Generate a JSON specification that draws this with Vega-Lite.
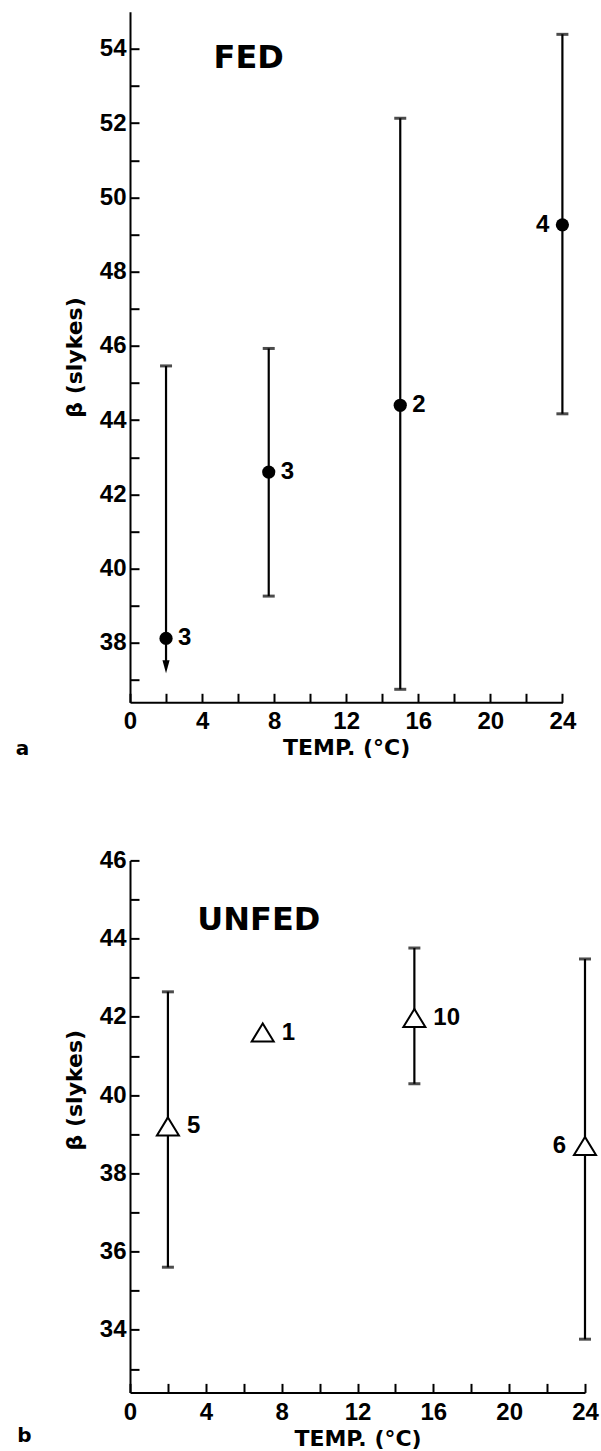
{
  "$schema": "https://vega.github.io/schema/vega-lite/v6.json",
  "padding": {"left": 15, "top": 11.7, "right": 5, "bottom": 0},
  "spacing": 88.7,
  "background": "white",
  "config": {
    "view": {"stroke": null},
    "axis": {
      "grid": false,
      "domainColor": "black",
      "domainWidth": 2,
      "tickColor": "black",
      "tickWidth": 2,
      "tickSize": -9,
      "labelFont": "Liberation Sans",
      "labelFontWeight": "bold",
      "labelFontSize": 24,
      "labelColor": "black",
      "titleFont": "DejaVu Sans",
      "titleFontWeight": "bold",
      "titleFontSize": 22,
      "titleColor": "black",
      "labelFlush": false,
      "labelOverlap": false
    },
    "axisX": {"labelPadding": 16.7, "titlePadding": 4},
    "axisY": {"labelPadding": 13, "titlePadding": 13}
  },
  "datasets": {
    "fedBars": [
      {"temp": 2, "beta": 37.5, "beta2": 45.46},
      {"temp": 7.7, "beta": 39.26, "beta2": 45.93},
      {"temp": 15, "beta": 36.75, "beta2": 52.13},
      {"temp": 24, "beta": 44.17, "beta2": 54.39}
    ],
    "fedCaps": [
      {"temp": 2, "beta": 45.46},
      {"temp": 7.7, "beta": 45.93},
      {"temp": 7.7, "beta": 39.26},
      {"temp": 15, "beta": 52.13},
      {"temp": 15, "beta": 36.75},
      {"temp": 24, "beta": 54.39},
      {"temp": 24, "beta": 44.17}
    ],
    "fedArrow": [
      {"temp": 2, "beta": 37.36}
    ],
    "fedPoints": [
      {"temp": 2, "beta": 38.12, "n": "3", "side": "right"},
      {"temp": 7.7, "beta": 42.6, "n": "3", "side": "right"},
      {"temp": 15, "beta": 44.4, "n": "2", "side": "right"},
      {"temp": 24, "beta": 49.26, "n": "4", "side": "left"}
    ],
    "fedNotes": [
      {"temp": 4.64, "beta": 53.75, "text": "FED", "kind": "head"},
      {"temp": -6.34, "beta": 35.15, "text": "a", "kind": "panel"}
    ],
    "unfedBars": [
      {"temp": 2, "beta": 35.6, "beta2": 42.64},
      {"temp": 15, "beta": 40.29, "beta2": 43.76},
      {"temp": 24, "beta": 33.76, "beta2": 43.48}
    ],
    "unfedCaps": [
      {"temp": 2, "beta": 42.64},
      {"temp": 2, "beta": 35.6},
      {"temp": 15, "beta": 43.76},
      {"temp": 15, "beta": 40.29},
      {"temp": 24, "beta": 43.48},
      {"temp": 24, "beta": 33.76}
    ],
    "unfedPoints": [
      {"temp": 2, "beta": 39.2, "n": "5", "side": "right"},
      {"temp": 7, "beta": 41.6, "n": "1", "side": "right"},
      {"temp": 15, "beta": 41.97, "n": "10", "side": "right"},
      {"temp": 24, "beta": 38.7, "n": "6", "side": "left"}
    ],
    "unfedNotes": [
      {"temp": 3.55, "beta": 44.48, "text": "UNFED", "kind": "head"},
      {"temp": -5.944, "beta": 31.29, "text": "b", "kind": "panel"}
    ]
  },
  "vconcat": [
    {
      "width": 432.4,
      "height": 690.6,
      "encoding": {
        "x": {
          "field": "temp", "type": "quantitative",
          "scale": {"domain": [0, 24], "nice": false, "zero": false},
          "axis": {
            "title": "TEMP. (°C)",
            "values": [0, 2, 4, 6, 8, 10, 12, 14, 16, 18, 20, 22, 24],
            "labelExpr": "datum.value % 4 === 0 ? datum.label : ''"
          }
        },
        "y": {
          "field": "beta", "type": "quantitative",
          "scale": {"domain": [36.4, 55], "nice": false, "zero": false},
          "axis": {
            "title": "β (slykes)",
            "values": [37, 38, 39, 40, 41, 42, 43, 44, 45, 46, 47, 48, 49, 50, 51, 52, 53, 54],
            "labelExpr": "datum.value % 2 === 0 ? datum.label : ''"
          }
        }
      },
      "layer": [
        {
          "data": {"name": "fedBars"},
          "mark": {"type": "rule", "color": "black", "strokeWidth": 2.2},
          "encoding": {"y2": {"field": "beta2"}}
        },
        {
          "data": {"name": "fedCaps"},
          "mark": {"type": "tick", "orient": "horizontal", "size": 12, "thickness": 3, "color": "black"},
          "encoding": {}
        },
        {
          "data": {"name": "fedArrow"},
          "mark": {"type": "point", "shape": "M-0.55,-1L0.55,-1L0,1Z", "size": 169, "filled": true, "color": "black", "opacity": 1},
          "encoding": {}
        },
        {
          "data": {"name": "fedPoints"},
          "mark": {"type": "point", "shape": "circle", "size": 175, "filled": true, "color": "black", "opacity": 1},
          "encoding": {}
        },
        {
          "data": {"name": "fedPoints"},
          "transform": [{"filter": "datum.side === 'right'"}],
          "mark": {"type": "text", "align": "left", "baseline": "middle", "dx": 12, "font": "Liberation Sans", "fontWeight": "bold", "fontSize": 24, "color": "black"},
          "encoding": {"text": {"field": "n"}}
        },
        {
          "data": {"name": "fedPoints"},
          "transform": [{"filter": "datum.side === 'left'"}],
          "mark": {"type": "text", "align": "right", "baseline": "middle", "dx": -13, "font": "Liberation Sans", "fontWeight": "bold", "fontSize": 24, "color": "black"},
          "encoding": {"text": {"field": "n"}}
        },
        {
          "data": {"name": "fedNotes"},
          "transform": [{"filter": "datum.kind === 'head'"}],
          "mark": {"type": "text", "align": "left", "baseline": "middle", "font": "DejaVu Sans", "fontWeight": "bold", "fontSize": 32, "color": "black"},
          "encoding": {"text": {"field": "text"}}
        },
        {
          "data": {"name": "fedNotes"},
          "transform": [{"filter": "datum.kind === 'panel'"}],
          "mark": {"type": "text", "align": "left", "baseline": "middle", "font": "DejaVu Sans", "fontWeight": "bold", "fontSize": 20, "color": "black"},
          "encoding": {"text": {"field": "text"}}
        }
      ]
    },
    {
      "width": 455,
      "height": 532,
      "encoding": {
        "x": {
          "field": "temp", "type": "quantitative",
          "scale": {"domain": [0, 24], "nice": false, "zero": false},
          "axis": {
            "title": "TEMP. (°C)",
            "values": [0, 2, 4, 6, 8, 10, 12, 14, 16, 18, 20, 22, 24],
            "labelExpr": "datum.value % 4 === 0 ? datum.label : ''"
          }
        },
        "y": {
          "field": "beta", "type": "quantitative",
          "scale": {"domain": [32.4, 46], "nice": false, "zero": false},
          "axis": {
            "title": "β (slykes)",
            "titleY": 229.3,
            "values": [33, 34, 35, 36, 37, 38, 39, 40, 41, 42, 43, 44, 45, 46],
            "labelExpr": "datum.value % 2 === 0 ? datum.label : ''"
          }
        }
      },
      "layer": [
        {
          "data": {"name": "unfedBars"},
          "mark": {"type": "rule", "color": "black", "strokeWidth": 2.2},
          "encoding": {"y2": {"field": "beta2"}}
        },
        {
          "data": {"name": "unfedCaps"},
          "mark": {"type": "tick", "orient": "horizontal", "size": 12, "thickness": 3, "color": "black"},
          "encoding": {}
        },
        {
          "data": {"name": "unfedPoints"},
          "mark": {"type": "point", "shape": "M0,-0.82L-1,0.82L1,0.82Z", "size": 484, "filled": false, "fill": "white", "fillOpacity": 1, "stroke": "black", "strokeWidth": 2, "opacity": 1},
          "encoding": {}
        },
        {
          "data": {"name": "unfedPoints"},
          "transform": [{"filter": "datum.side === 'right'"}],
          "mark": {"type": "text", "align": "left", "baseline": "middle", "dx": 19, "font": "Liberation Sans", "fontWeight": "bold", "fontSize": 24, "color": "black"},
          "encoding": {"text": {"field": "n"}}
        },
        {
          "data": {"name": "unfedPoints"},
          "transform": [{"filter": "datum.side === 'left'"}],
          "mark": {"type": "text", "align": "right", "baseline": "middle", "dx": -19, "font": "Liberation Sans", "fontWeight": "bold", "fontSize": 24, "color": "black"},
          "encoding": {"text": {"field": "n"}}
        },
        {
          "data": {"name": "unfedNotes"},
          "transform": [{"filter": "datum.kind === 'head'"}],
          "mark": {"type": "text", "align": "left", "baseline": "middle", "font": "DejaVu Sans", "fontWeight": "bold", "fontSize": 32, "color": "black"},
          "encoding": {"text": {"field": "text"}}
        },
        {
          "data": {"name": "unfedNotes"},
          "transform": [{"filter": "datum.kind === 'panel'"}],
          "mark": {"type": "text", "align": "left", "baseline": "middle", "font": "DejaVu Sans", "fontWeight": "bold", "fontSize": 20, "color": "black"},
          "encoding": {"text": {"field": "text"}}
        }
      ]
    }
  ]
}
